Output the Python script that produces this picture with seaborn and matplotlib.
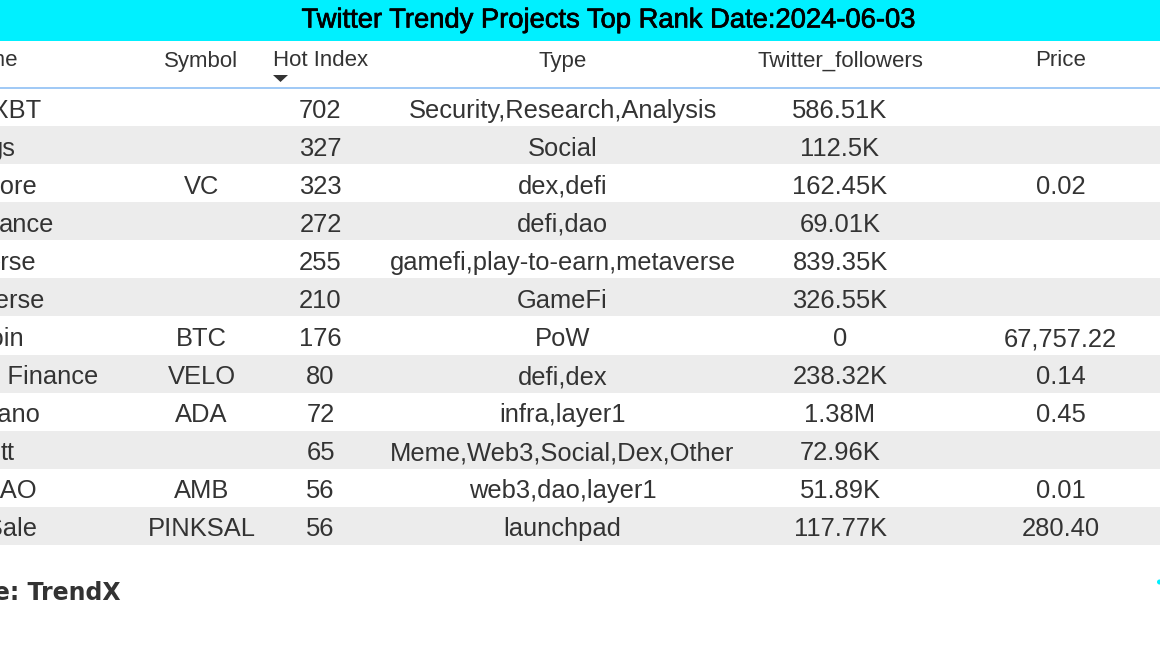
import matplotlib
matplotlib.use("Agg")
import matplotlib.pyplot as plt
import matplotlib.patheffects as pe
from matplotlib.colors import ListedColormap
from matplotlib.patches import Rectangle, Polygon, Circle
import numpy as np
import seaborn as sns

# left column runs off the image, only the visible ends of the names are kept
names = ["ZachXBT", "gs", "Vcore", "ance", "erse", "verse", "Bitcoin",
         "Velodrome Finance", "Cardano", "tt", "AirDAO", "PinkSale"]
symbols = ["", "", "VC", "", "", "", "BTC", "VELO", "ADA", "", "AMB", "PINKSAL"]
hot_index = [702, 327, 323, 272, 255, 210, 176, 80, 72, 65, 56, 56]
types = ["Security,Research,Analysis", "Social", "dex,defi", "defi,dao",
         "gamefi,play-to-earn,metaverse", "GameFi", "PoW", "defi,dex",
         "infra,layer1", "Meme,Web3,Social,Dex,Other", "web3,dao,layer1", "launchpad"]
followers = ["586.51K", "112.5K", "162.45K", "69.01K", "839.35K", "326.55K", "0",
             "238.32K", "1.38M", "72.96K", "51.89K", "117.77K"]
prices = ["", "", "0.02", "", "", "", "67,757.22", "0.14", "0.45", "", "0.01", "280.40"]
headers = ["Symbol", "Hot Index", "Type", "Twitter_followers", "Price"]
title = "Twitter Trendy Projects Top Rank Date:2024-06-03"

W, H = 1160, 653
TOP, BOTTOM = 88, 545
TEXT = "#333333"

sns.set_theme(style="white")
plt.rcParams["font.family"] = ["Liberation Sans", "DejaVu Sans"]

fig = plt.figure(figsize=(W / 100, H / 100), dpi=100, facecolor="white")

# striped rows
ax = fig.add_axes([0, 1 - BOTTOM / H, 1, (BOTTOM - TOP) / H])
bands = np.array([[i % 2] for i in range(len(names))])
sns.heatmap(bands, ax=ax, cmap=ListedColormap(["#ffffff", "#ececec"]), cbar=False,
            xticklabels=False, yticklabels=False)

# pixel coordinate overlay for the header, title and footer
top = fig.add_axes([0, 0, 1, 1], facecolor="none")
top.set_xlim(0, W)
top.set_ylim(H, 0)
top.axis("off")

top.add_patch(Rectangle((0, 0), W, 41, color="#00f0ff", lw=0))
top.text(609, 20.5, title, ha="center", va="center", fontsize=19.7, color="black",
         path_effects=[pe.withStroke(linewidth=0.5, foreground="black")])
top.plot([0, W], [88, 88], color="#8fc0f5", lw=1.2)

name_right = [41, 16, 38, 54, 36, 45, 25, 98, 41, 15, 38, 38]
header_x = [201.5, 320.5, 562.5, 840, 1060.5]

top.text(17.5, 61, "Name", ha="right", va="center", fontsize=16, color=TEXT)
for x, label in zip(header_x, headers):
    top.text(x, 61, label, ha="center", va="center", fontsize=16, color=TEXT)
top.add_patch(Polygon([(273, 75), (288, 75), (280.5, 82)], color="#333333", lw=0))

for i in range(len(names)):
    y = H - ax.transData.transform((0, i + 0.5))[1] + 3.5
    top.text(name_right[i], y, names[i], ha="right", va="center", fontsize=18.4, color=TEXT)
    row = [symbols[i], hot_index[i], types[i], followers[i], prices[i]]
    for x, val in zip(header_x, row):
        top.text(x, y, str(val), ha="center", va="center", fontsize=18.4, color=TEXT)

top.text(120.5, 593, "Source: TrendX", ha="right", va="center", fontsize=17,
         fontweight="bold", color=TEXT, family="DejaVu Sans")
top.add_patch(Circle((1159.5, 582), 2.5, color="#00f0ff", lw=0))

fig.savefig("out.png", dpi=100)
